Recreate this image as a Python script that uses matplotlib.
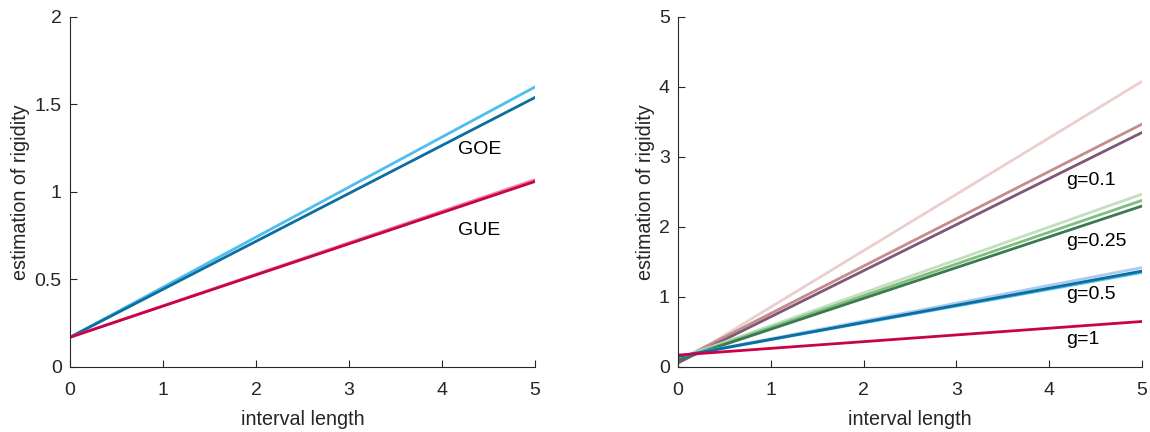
import numpy as np
import matplotlib.pyplot as plt

plt.rcParams['font.family'] = ['Liberation Sans', 'DejaVu Sans']

# interval lengths sampled
L = [0, 1, 2, 3, 4, 5]

# left panel: GOE / GUE rigidity estimates
goe_a = [0.17, 0.456, 0.742, 1.028, 1.314, 1.60]
goe_b = [0.17, 0.444, 0.718, 0.992, 1.266, 1.54]
gue_a = [0.17, 0.350, 0.530, 0.710, 0.890, 1.07]
gue_b = [0.17, 0.348, 0.526, 0.704, 0.882, 1.06]

# right panel: several coupling values g, three curves each
g01 = [[0.05, 0.856, 1.662, 2.468, 3.274, 4.08],
       [0.09, 0.766, 1.442, 2.118, 2.794, 3.47],
       [0.06, 0.718, 1.376, 2.034, 2.692, 3.35]]
g025 = [[0.12, 0.59, 1.06, 1.53, 2.00, 2.47],
        [0.11, 0.564, 1.018, 1.472, 1.926, 2.38],
        [0.10, 0.54, 0.98, 1.42, 1.86, 2.30]]
g05 = [[0.15, 0.404, 0.658, 0.912, 1.166, 1.42],
       [0.15, 0.390, 0.630, 0.870, 1.110, 1.35],
       [0.15, 0.394, 0.638, 0.882, 1.126, 1.37]]
g1 = [0.17, 0.266, 0.362, 0.458, 0.554, 0.65]

goe_colors = ['#4DBEEE', '#0B6E9E']
gue_colors = ['#EE7FA8', '#C8034A']
pink_colors = ['#EBCFCF', '#C48C8C', '#7D5877']
green_colors = ['#C2E0BE', '#82BD80', '#3A7A50']
blue_colors = ['#A8CCF0', '#4DBEEE', '#0B6E9E']
red_color = '#C8034A'

fig = plt.figure(figsize=(11.5, 4.32), dpi=100)
ax1 = fig.add_axes([0.0609, 0.1505, 0.4043, 0.8102])
ax2 = fig.add_axes([0.5896, 0.1505, 0.4035, 0.8102])

ax1.plot(L, goe_a, color=goe_colors[0], lw=2)
ax1.plot(L, goe_b, color=goe_colors[1], lw=2)
ax1.plot(L, gue_a, color=gue_colors[0], lw=2)
ax1.plot(L, gue_b, color=gue_colors[1], lw=2)
ax1.text(4.17, 1.24, 'GOE', fontsize=14, va='center')
ax1.text(4.17, 0.78, 'GUE', fontsize=14, va='center')
ax1.set_ylim(0, 2)
ax1.set_yticks([0, 0.5, 1, 1.5, 2])
ax1.set_yticklabels(['0', '0.5', '1', '1.5', '2'])

for ys, c in zip(g01, pink_colors):
    ax2.plot(L, ys, color=c, lw=2)
for ys, c in zip(g025, green_colors):
    ax2.plot(L, ys, color=c, lw=2)
for ys, c in zip(g05, blue_colors):
    ax2.plot(L, ys, color=c, lw=2)
ax2.plot(L, g1, color=red_color, lw=2)
ax2.text(4.18, 2.67, 'g=0.1', fontsize=14, va='center')
ax2.text(4.18, 1.79, 'g=0.25', fontsize=14, va='center')
ax2.text(4.18, 1.04, 'g=0.5', fontsize=14, va='center')
ax2.text(4.18, 0.39, 'g=1', fontsize=14, va='center')
ax2.set_ylim(0, 5)
ax2.set_yticks([0, 1, 2, 3, 4, 5])

for ax in (ax1, ax2):
    ax.set_xlim(0, 5)
    ax.set_xticks([0, 1, 2, 3, 4, 5])
    ax.spines['top'].set_visible(False)
    ax.spines['right'].set_visible(False)
    for s in ('left', 'bottom'):
        ax.spines[s].set_color('#262626')
        ax.spines[s].set_linewidth(0.8)
    ax.tick_params(direction='in', length=5, width=0.8, colors='#262626',
                   labelsize=14)
    ax.tick_params(axis='x', pad=11)
    ax.tick_params(axis='y', pad=6)
    ax.set_xlabel('interval length', fontsize=14.2, color='#262626', labelpad=8)
    ax.set_ylabel('estimation of rigidity', fontsize=14.2, color='#262626', labelpad=3)

fig.savefig('out.png', dpi=100)
